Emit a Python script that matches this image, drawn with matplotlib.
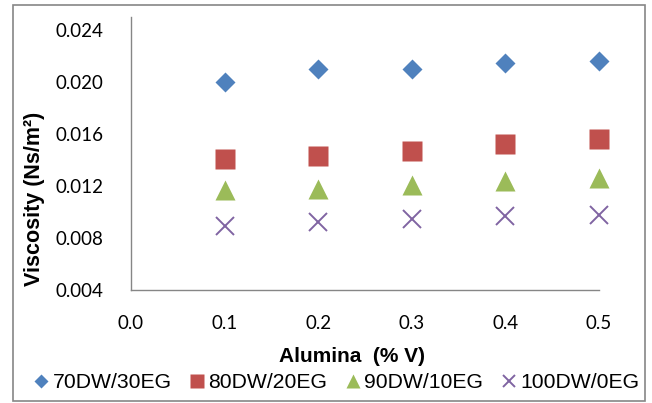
import matplotlib
matplotlib.use("Agg")
import matplotlib.pyplot as plt
from matplotlib.patches import Rectangle

# ==============================
# DADOS
# ==============================
alumina = [0.1, 0.2, 0.3, 0.4, 0.5]

series_names = ["70DW/30EG", "80DW/20EG", "90DW/10EG", "100DW/0EG"]
visc_70_30 = [0.0200, 0.0210, 0.0210, 0.02144, 0.0216]
visc_80_20 = [0.0141, 0.0143, 0.0147, 0.0152, 0.0156]
visc_90_10 = [0.0117, 0.01177, 0.01208, 0.01238, 0.01259]
visc_100_0 = [0.0089, 0.0092, 0.00946, 0.00966, 0.00978]

x_ticks = [0.0, 0.1, 0.2, 0.3, 0.4, 0.5]
y_ticks = [0.004, 0.008, 0.012, 0.016, 0.020, 0.024]

# ==============================
# ESTILO
# ==============================
CORES = ["#4F81BD", "#C0504D", "#9BBB59", "#8064A2"]
MARCADORES = [
    dict(marker="D", markersize=10.2),
    dict(marker="s", markersize=14.2),
    dict(marker="^", markersize=14.2),
    dict(marker="x", markersize=12.5, markeredgewidth=1.4),
]
CINZA = "#868686"

fig = plt.figure(figsize=(6.52, 4.03), dpi=100)
ax = fig.add_axes([131 / 652, 1 - 290 / 403, (599 - 131) / 652, (290 - 17) / 403])

todas = [visc_70_30, visc_80_20, visc_90_10, visc_100_0]
for nome, valores, cor, mk in zip(series_names, todas, CORES, MARCADORES):
    estilo = dict(mk)
    if estilo["marker"] == "x":
        estilo["markeredgecolor"] = cor
    else:
        estilo["markeredgecolor"] = "none"
    ax.plot(alumina, valores, linestyle="none", color=cor, label=nome,
            clip_on=False, **estilo)

ax.set_xlim(0.0, 0.5)
ax.set_ylim(0.004, 0.025)
ax.set_xticks(x_ticks)
ax.set_yticks(y_ticks)
ax.set_xticklabels([f"{v:.1f}" for v in x_ticks], fontfamily="Lato", fontsize=13.5)
ax.set_yticklabels([f"{v:.3f}" for v in y_ticks], fontfamily="Lato", fontsize=13.5)
ax.tick_params(axis="both", length=0, colors="#000000")
ax.tick_params(axis="y", pad=20)
ax.tick_params(axis="x", pad=18)

for lado in ["top", "right"]:
    ax.spines[lado].set_visible(False)
for lado in ["left", "bottom"]:
    ax.spines[lado].set_color(CINZA)
    ax.spines[lado].set_linewidth(1.0)

# rótulo do eixo Y posicionado na figura
fig.text(35 / 652, 1 - 199 / 403, "Viscosity (Ns/m²)", rotation=90,
         ha="center", va="center", fontfamily="Liberation Sans",
         fontweight="bold", fontsize=15.5)

fig.text(352 / 652, 1 - 357 / 403, "Alumina  (% V)", ha="center", va="center",
         fontfamily="Liberation Sans", fontweight="bold", fontsize=15)

# ==============================
# LEGENDA
# ==============================
fig.legend(loc="center", bbox_to_anchor=(337 / 652, 1 - 383 / 403), ncol=4,
           frameon=False, markerscale=0.68, handlelength=0.6, handletextpad=0.25,
           columnspacing=0.9, borderaxespad=0,
           prop={"family": "Liberation Sans", "size": 15.2})

# ==============================
# MOLDURA
# ==============================
fig.patches.append(Rectangle((13 / 652, 1 - 401 / 403), (645 - 13) / 652, (401 - 5) / 403,
                             transform=fig.transFigure, fill=False,
                             edgecolor=CINZA, linewidth=1.2))

fig.savefig("out.png", dpi=100)
